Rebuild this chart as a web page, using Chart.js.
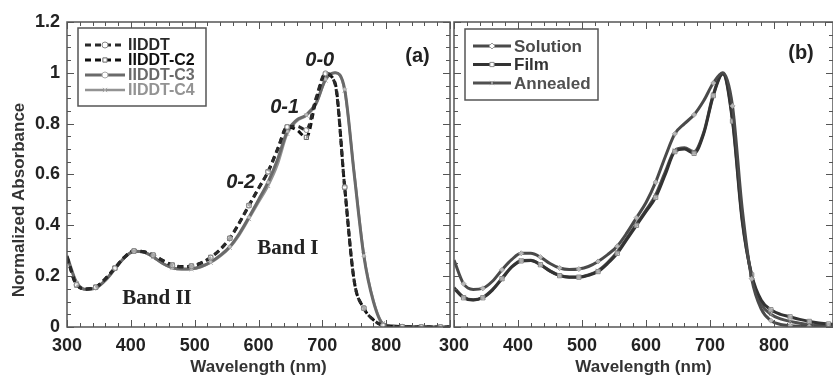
<!DOCTYPE html>
<html>
<head>
<meta charset="utf-8">
<script src="https://cdn.jsdelivr.net/npm/chart.js@4.4.0/dist/chart.umd.min.js"></script>
<style>
  body { margin: 0; background: #fff; overflow: hidden; width: 833px; height: 379px; position: relative; }
  canvas { position: absolute; top: 0; }
  #grafA { left: 0; }
  #grafB { left: 420px; }
</style>
</head>
<body>
<canvas id="grafA" width="452" height="379"></canvas>
<canvas id="grafB" width="413" height="379"></canvas>
<script>
// Longitudes de onda (nm), paso de 15
const wavelengths = [300,315,330,345,360,375,390,405,420,435,450,465,480,495,510,525,540,555,570,585,
                     600,615,630,645,660,675,690,705,720,735,750,765,780,795,810,825,840,855,870,885,900]

// Panel (a)
const iiddt   = [0.276,0.166,0.150,0.156,0.189,0.231,0.274,0.299,0.296,0.283,0.261,0.243,0.236,0.239,0.251,0.273,0.305,0.349,0.410,0.478,
                 0.545,0.611,0.700,0.787,0.790,0.775,0.900,0.998,0.955,0.550,0.180,0.074,0.028,0.006,0.002,0.001,0,0,0,0,0]
const iiddtC2 = [0.275,0.165,0.150,0.157,0.190,0.232,0.275,0.299,0.296,0.283,0.262,0.244,0.238,0.240,0.252,0.274,0.305,0.349,0.410,0.478,
                 0.545,0.611,0.700,0.787,0.775,0.746,0.890,0.995,0.960,0.550,0.180,0.074,0.028,0.006,0.002,0.001,0,0,0,0,0]
const iiddtC3 = [0.280,0.175,0.148,0.153,0.183,0.228,0.273,0.298,0.295,0.276,0.250,0.233,0.228,0.229,0.238,0.256,0.282,0.316,0.368,0.432,
                 0.500,0.570,0.660,0.770,0.815,0.835,0.880,0.975,1.000,0.935,0.600,0.280,0.100,0.012,0.004,0.002,0.001,0,0,0,0]
const iiddtC4 = [0.278,0.172,0.148,0.155,0.185,0.230,0.272,0.297,0.294,0.275,0.250,0.232,0.227,0.228,0.236,0.253,0.278,0.312,0.362,0.425,
                 0.490,0.555,0.640,0.760,0.810,0.832,0.875,0.970,1.000,0.930,0.605,0.285,0.105,0.015,0.005,0.002,0.001,0,0,0,0]

// Panel (b)
const solution = [0.263,0.170,0.148,0.152,0.180,0.225,0.265,0.290,0.290,0.275,0.250,0.232,0.226,0.228,0.238,0.258,0.285,0.318,0.370,0.430,
                  0.490,0.570,0.670,0.760,0.800,0.835,0.890,0.960,1.000,0.870,0.470,0.190,0.070,0.025,0.010,0.005,0.003,0.002,0.002,0.002,0.002]
const film     = [0.152,0.115,0.106,0.115,0.145,0.190,0.235,0.260,0.262,0.245,0.220,0.202,0.196,0.196,0.203,0.218,0.250,0.290,0.345,0.400,
                  0.455,0.510,0.600,0.690,0.700,0.683,0.760,0.910,0.995,0.810,0.420,0.205,0.105,0.068,0.050,0.040,0.030,0.022,0.016,0.012,0.010]
const annealed = [0.155,0.118,0.107,0.117,0.147,0.192,0.237,0.262,0.263,0.246,0.221,0.203,0.197,0.197,0.205,0.221,0.253,0.295,0.350,0.405,
                  0.460,0.520,0.610,0.695,0.705,0.690,0.765,0.915,0.998,0.820,0.430,0.200,0.090,0.050,0.032,0.022,0.015,0.010,0.007,0.005,0.004]

// Ticks
const xTicks = [300,400,500,600,700,800]
const yTicks = [0,0.2,0.4,0.6,0.8,1,1.2]
const xMinorStep = 20
const yMinorStep = 0.05

const FUENTE = "'Liberation Sans', Arial, sans-serif"

function serie(label, ys, color, ancho, dash, estilo, radio, colorPunto) {
    return {
        label: label,
        data: wavelengths.map((x, i) => ({ x: x, y: ys[i] })),
        borderColor: color,
        borderWidth: ancho,
        borderDash: dash,
        cubicInterpolationMode: 'monotone',
        pointStyle: estilo,
        pointRadius: c => (c.dataIndex % 2 ? radio : 0),
        pointBorderColor: colorPunto,
        pointBackgroundColor: 'rgba(255,255,255,0.6)',
        pointBorderWidth: 1,
        textColor: color
    }
}

// Marco, ticks hacia adentro, leyenda y textos
const decor = {
    id: 'decor',
    afterDraw(chart, args, opts) {
        const ctx = chart.ctx
        const a = chart.chartArea
        const sx = chart.scales.x, sy = chart.scales.y
        ctx.save()
        ctx.strokeStyle = '#555'
        ctx.lineWidth = 1.5
        ctx.strokeRect(a.left, a.top, a.right - a.left, a.bottom - a.top)
        ctx.lineWidth = 1
        for (let v = sx.min; v <= sx.max + 0.01; v += xMinorStep) {
            const p = Math.round(sx.getPixelForValue(v)) + 0.5
            const len = v % 100 === 0 ? 7 : 4
            ctx.beginPath()
            ctx.moveTo(p, a.bottom); ctx.lineTo(p, a.bottom - len)
            ctx.moveTo(p, a.top); ctx.lineTo(p, a.top + len)
            ctx.stroke()
        }
        for (let k = 0; k * yMinorStep <= sy.max + 0.001; k++) {
            const v = k * yMinorStep
            const p = Math.round(sy.getPixelForValue(v)) + 0.5
            const len = k % 4 === 0 ? 7 : 4
            ctx.beginPath()
            ctx.moveTo(a.left, p); ctx.lineTo(a.left + len, p)
            ctx.moveTo(a.right, p); ctx.lineTo(a.right - len, p)
            ctx.stroke()
        }

        // leyenda
        const lg = opts.legend
        const bx = a.left + lg.x, by = a.top + lg.y
        ctx.fillStyle = '#fff'
        ctx.fillRect(bx, by, lg.w, lg.h)
        ctx.strokeStyle = '#555'
        ctx.lineWidth = 1.5
        ctx.strokeRect(bx, by, lg.w, lg.h)
        chart.data.datasets.forEach((ds, i) => {
            const yy = by + lg.first + i * lg.row
            ctx.strokeStyle = ds.borderColor
            ctx.lineWidth = ds.borderWidth
            ctx.setLineDash(ds.borderDash || [])
            ctx.beginPath()
            ctx.moveTo(bx + lg.lineFrom, yy)
            ctx.lineTo(bx + lg.lineFrom + lg.lineLen, yy)
            ctx.stroke()
            ctx.setLineDash([])
            const punto = { pointStyle: ds.pointStyle, radius: 3, borderWidth: 1, rotation: 0 }
            ctx.fillStyle = '#fff'
            ctx.strokeStyle = ds.pointBorderColor
            ctx.lineWidth = 1
            Chart.helpers.drawPoint(ctx, punto, bx + lg.lineFrom + lg.lineLen / 2, yy)
            ctx.fillStyle = ds.textColor
            ctx.font = 'bold ' + lg.size + 'px ' + FUENTE
            ctx.textAlign = 'left'
            ctx.textBaseline = 'middle'
            ctx.fillText(ds.label, bx + lg.lineFrom + lg.lineLen + 3, yy + 1)
        })

        // textos
        ctx.textAlign = 'center'
        ctx.textBaseline = 'middle'
        ;(opts.notes || []).forEach(n => {
            ctx.fillStyle = n.color || '#222'
            ctx.font = n.font
            ctx.fillText(n.text, sx.getPixelForValue(n.x), sy.getPixelForValue(n.y))
        })

        if (opts.yTitle) {
            ctx.save()
            ctx.translate(opts.yTitle.x, opts.yTitle.y)
            ctx.rotate(-Math.PI / 2)
            ctx.fillStyle = '#333'
            ctx.font = 'bold 17px ' + FUENTE
            ctx.fillText(opts.yTitle.text, 0, 0)
            ctx.restore()
        }
        ctx.restore()
    }
}

function ejes(xMax, yWidth, showY) {
    return {
        x: {
            type: 'linear', min: 300, max: xMax,
            afterBuildTicks: s => { s.ticks = xTicks.map(v => ({ value: v })) },
            afterFit: s => { s.height = 52 },
            grid: { display: false, drawTicks: false },
            border: { display: false },
            ticks: { padding: 8, color: '#222', font: { family: FUENTE, size: 18, weight: 'bold' }, maxRotation: 0 },
            title: { display: true, text: 'Wavelength (nm)', color: '#333',
                     font: { family: FUENTE, size: 17, weight: 'bold' }, padding: { top: 0, bottom: 1 } }
        },
        y: {
            min: 0, max: 1.2,
            afterBuildTicks: s => { s.ticks = yTicks.map(v => ({ value: v })) },
            afterFit: s => { s.width = yWidth },
            grid: { display: false, drawTicks: false },
            border: { display: false },
            ticks: { display: showY, padding: 7, color: '#222', font: { family: FUENTE, size: 18, weight: 'bold' },
                     callback: v => String(v) }
        }
    }
}

const fuenteEtiqueta = 'italic bold 20px ' + FUENTE
const fuenteBanda = 'bold 21px "Liberation Serif", "Times New Roman", serif'

new Chart(document.getElementById('grafA'), {
    type: 'line',
    data: {
        datasets: [
            serie('IIDDT', iiddt, '#2a2a2a', 3, [6, 4], 'circle', 2.5, '#888'),
            serie('IIDDT-C2', iiddtC2, '#111', 3, [6, 4], 'rect', 3, '#666'),
            serie('IIDDT-C3', iiddtC3, '#6a6a6a', 3, [], 'circle', 1.5, '#aaa'),
            serie('IIDDT-C4', iiddtC4, '#939393', 2.5, [], 'crossRot', 3, '#aaa')
        ]
    },
    options: {
        responsive: false,
        animation: false,
        layout: { padding: { top: 22, right: 2, left: 0, bottom: 0 } },
        plugins: {
            legend: { display: false },
            tooltip: { enabled: false },
            decor: {
                legend: { x: 11, y: 6, w: 128, h: 78, first: 17, row: 15, lineFrom: 7, lineLen: 40, size: 16 },
                notes: [
                    { text: '0-0', x: 696, y: 1.05, font: fuenteEtiqueta },
                    { text: '0-1', x: 641, y: 0.865, font: fuenteEtiqueta },
                    { text: '0-2', x: 572, y: 0.57, font: fuenteEtiqueta },
                    { text: 'Band I', x: 646, y: 0.307, font: fuenteBanda },
                    { text: 'Band II', x: 441, y: 0.11, font: fuenteBanda },
                    { text: '(a)', x: 849, y: 1.066, font: 'bold 20px ' + FUENTE }
                ],
                yTitle: { text: 'Normalized Absorbance', x: 19, y: 200 }
            }
        },
        scales: ejes(900, 67, true)
    },
    plugins: [decor]
})

new Chart(document.getElementById('grafB'), {
    type: 'line',
    data: {
        datasets: [
            serie('Solution', solution, '#4a4a4a', 3, [], 'rectRot', 2.5, '#999'),
            serie('Film', film, '#333', 3, [], 'rect', 3, '#888'),
            serie('Annealed', annealed, '#505050', 3, [], 'crossRot', 3, '#999')
        ]
    },
    options: {
        responsive: false,
        animation: false,
        layout: { padding: { top: 22, right: 0, left: 0, bottom: 0 } },
        plugins: {
            legend: { display: false },
            tooltip: { enabled: false },
            decor: {
                legend: { x: 11, y: 7, w: 133, h: 71, first: 17, row: 18.5, lineFrom: 8, lineLen: 38, size: 17 },
                notes: [
                    { text: '(b)', x: 842, y: 1.078, font: 'bold 20px ' + FUENTE }
                ]
            }
        },
        scales: ejes(892, 34, false)
    },
    plugins: [decor]
})
</script>
</body>
</html>
